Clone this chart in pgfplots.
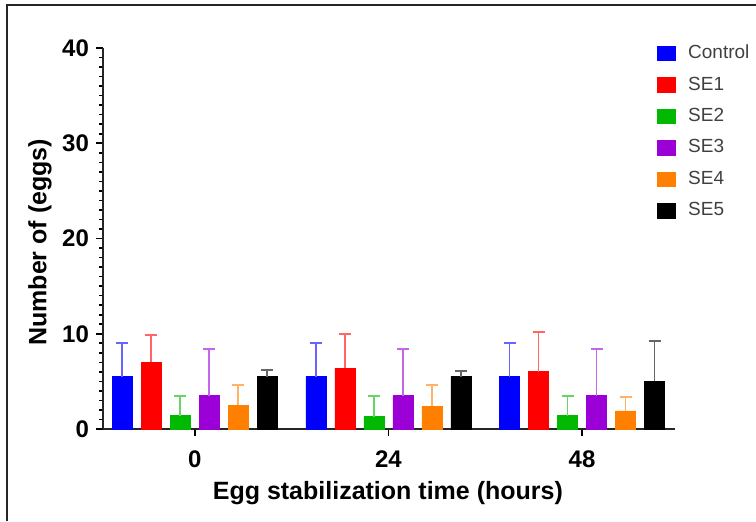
\documentclass[border=0pt]{standalone}
\usepackage{pgfplots}
\usepackage{pgfplotstable}
\pgfplotsset{compat=1.18}
\usepackage{fontspec}
\setmainfont{Liberation Sans}

\definecolor{cBlue}{RGB}{0,0,255}
\definecolor{cRed}{RGB}{255,0,0}
\definecolor{cGreen}{RGB}{0,185,0}
\definecolor{cPurple}{RGB}{155,0,215}
\definecolor{cOrange}{RGB}{255,128,0}
\definecolor{cBlack}{RGB}{0,0,0}

\pgfplotstableread{
x y e
0 5.5 3.5
1 5.5 3.5
2 5.5 3.5
}\tControl
\pgfplotstableread{
x y e
0 7.0 2.85
1 6.4 3.6
2 6.0 4.2
}\tSEa
\pgfplotstableread{
x y e
0 1.4 2.1
1 1.3 2.2
2 1.4 2.1
}\tSEb
\pgfplotstableread{
x y e
0 3.5 4.9
1 3.5 4.9
2 3.5 4.9
}\tSEc
\pgfplotstableread{
x y e
0 2.5 2.1
1 2.4 2.2
2 1.9 1.5
}\tSEd
\pgfplotstableread{
x y e
0 5.5 0.7
1 5.5 0.6
2 5.0 4.2
}\tSEe

\pgfplotsset{
  sqleg/.style={legend image code/.code={\fill[##1] (0pt,-3.6pt) rectangle (9pt,3.6pt);}},
  mybar/.style={fill=#1, draw=#1, line width=0.4pt, sqleg,
    error bars/.cd, y dir=plus, y explicit,
    error bar style={#1!60, line width=0.9pt},
    error mark options={#1!60, line width=0.9pt, mark size=3pt, rotate=90}},
}

\begin{document}
\begin{tikzpicture}
\useasboundingbox (0,0) rectangle (378pt,260.5pt);
\draw[line width=1pt, black!85] (3.5pt,0) -- (3.5pt,258pt) -- (378pt,258pt);
\begin{axis}[
  at={(51.5pt,46pt)}, anchor=south west,
  scale only axis, width=286pt, height=190.5pt,
  ybar=4.5pt, bar width=10pt,
  enlargelimits=false,
  xmin=-0.474, xmax=2.48, ymin=0, ymax=40,
  axis x line=bottom, axis y line=left,
  axis line style={-, line width=1.2pt, black!85},
  xtick={0,1,2}, xticklabels={0,24,48},
  ytick={0,10,20,30,40}, minor y tick num=9,
  tick align=outside,
  major tick length=3.5pt, minor tick length=2pt,
  tick style={black, line width=0.8pt},
  tick label style={font=\fontsize{12}{14}\selectfont\bfseries},
  /pgf/number format/assume math mode=true,
  xticklabel style={yshift=-4pt},
  every axis x label/.style={at={(axis description cs:0.498,-0.168)}, anchor=center},
  every axis y label/.style={at={(axis description cs:-0.11,0.49)}, anchor=center, rotate=90},
  label style={font=\fontsize{12.5}{15}\selectfont\bfseries},
  xlabel={Egg stabilization time (hours)},
  ylabel={Number of (eggs)},
  legend style={at={(rel axis cs:0.9685,1.02)}, anchor=north west, draw=none, fill=none,
    inner sep=0pt, row sep=3.6pt, font=\fontsize{9.5}{11}\selectfont, text=black!75,
    /tikz/every odd column/.append style={column sep=4pt}},
  legend cell align=left,
]
\addplot[mybar=cBlue] table[x=x,y=y,y error=e]{\tControl};
\addplot[mybar=cRed] table[x=x,y=y,y error=e]{\tSEa};
\addplot[mybar=cGreen] table[x=x,y=y,y error=e]{\tSEb};
\addplot[mybar=cPurple] table[x=x,y=y,y error=e]{\tSEc};
\addplot[mybar=cOrange] table[x=x,y=y,y error=e]{\tSEd};
\addplot[mybar=cBlack] table[x=x,y=y,y error=e]{\tSEe};
\legend{Control,SE1,SE2,SE3,SE4,SE5}
\end{axis}
\end{tikzpicture}
\end{document}
